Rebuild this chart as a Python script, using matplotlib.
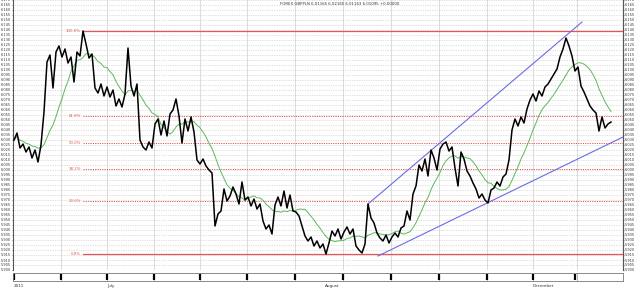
import numpy as np
import pandas as pd
import matplotlib
matplotlib.use("Agg")
import matplotlib.pyplot as plt
from matplotlib.ticker import MultipleLocator, FormatStrFormatter
from matplotlib.transforms import blended_transform_factory

# ---------------- data ----------------
day_start = 14
day_step = 3
prices = [
    6.030, 6.037, 6.022, 6.026, 6.018, 6.023, 6.012, 6.020, 6.008, 6.025,
    6.058, 6.108, 6.115, 6.082, 6.118, 6.124, 6.113, 6.121, 6.107, 6.113,
    6.088, 6.118, 6.114, 6.139, 6.126, 6.112, 6.116, 6.082, 6.077, 6.086,
    6.074, 6.083, 6.073, 6.080, 6.064, 6.071, 6.063, 6.076, 6.122, 6.084,
    6.074, 6.086, 6.030, 6.023, 6.020, 6.028, 6.022, 6.046, 6.051, 6.035,
    6.049, 6.034, 6.056, 6.060, 6.071, 6.054, 6.027, 6.051, 6.039, 6.053,
    6.038, 6.010, 6.006, 6.011, 6.004, 6.000, 5.997, 5.944, 5.956, 5.959,
    5.981, 5.969, 5.974, 5.983, 5.976, 5.966, 5.988, 5.970, 5.973, 5.964,
    5.971, 5.961, 5.966, 5.949, 5.941, 5.945, 5.936, 5.965, 5.973, 5.964,
    5.979, 5.962, 5.975, 5.959, 5.958, 5.954, 5.944, 5.934, 5.929, 5.933,
    5.924, 5.929, 5.922, 5.926, 5.916, 5.927, 5.939, 5.934, 5.941, 5.931,
    5.938, 5.943, 5.936, 5.941, 5.924, 5.920, 5.917, 5.926, 5.966, 5.952,
    5.947, 5.937, 5.932, 5.929, 5.935, 5.927, 5.933, 5.937, 5.933, 5.942,
    5.944, 5.959, 5.950, 5.976, 5.984, 6.005, 5.999, 6.011, 5.994, 6.020,
    6.012, 6.000, 6.021, 6.026, 6.028, 6.019, 6.023, 6.002, 5.984, 6.018,
    6.011, 5.999, 5.994, 5.987, 5.981, 5.972, 5.976, 5.970, 5.967, 5.980,
    5.982, 5.988, 5.984, 5.993, 5.996, 6.010, 6.040, 6.051, 6.044, 6.053,
    6.047, 6.061, 6.070, 6.076, 6.069, 6.079, 6.074, 6.083, 6.086, 6.091,
    6.096, 6.101, 6.113, 6.121, 6.132, 6.124, 6.114, 6.099, 6.103, 6.084,
    6.078, 6.071, 6.064, 6.060, 6.057, 6.039, 6.053, 6.042, 6.046, 6.048,
]
ma_window = 11

fib_pcts = [1.0, 0.618, 0.5, 0.382, 0.236, 0.0]
fib_labels = ["100.0%", "61.8%", "50.0%", "38.2%", "23.6%", "0.0%"]
fib_styles = ["-", ":", ":", ":", ":", "-"]
fib_start = 83

trend_upper_days = [368, 582]
trend_upper_prices = [5.966, 6.148]
trend_lower_days = [378, 623]
trend_lower_prices = [5.914, 6.033]

grid_days = [61, 107, 154, 200, 247, 295, 343, 391, 439, 487, 533, 577]
strip_marks = [14, 61, 107, 154, 200, 247, 295, 343, 391, 439, 487, 533, 575]
month_days = [14, 107, 325, 533]
month_labels = ["2011", "July", "August", "December"]

title = "FOREX GBPPLN 6.01165 6.02165 6.01163 6.01095 +0.00000"

x_min, x_max = 13, 623
y_min, y_max = 5.900, 6.170

# ---------------- figure ----------------
days = day_start + day_step * np.arange(len(prices))
s = pd.Series(prices, index=days)
ma = s.rolling(ma_window, min_periods=1).mean()

fig = plt.figure(figsize=(6.4, 3.02), dpi=100)
fig.patch.set_facecolor("white")

ax = fig.add_axes([13 / 640, 1 - 270 / 302, 610 / 640, 270 / 302])
ax.set_xlim(x_min, x_max)
ax.set_ylim(y_min, y_max)
ax.set_axisbelow(True)

# grid
ax.yaxis.set_major_locator(MultipleLocator(0.005))
ax.yaxis.set_major_formatter(FormatStrFormatter("%.3f"))
ax.grid(axis="y", color="#c4c4c4", linestyle=(0, (1, 1.5)), linewidth=0.5)
for g in grid_days:
    ax.axvline(g, color="#d6d6d6", linewidth=0.6, zorder=0)
ax.set_xticks([])

for sp in ["top", "bottom"]:
    ax.spines[sp].set_visible(False)
for sp in ["left", "right"]:
    ax.spines[sp].set_color("#555555")
    ax.spines[sp].set_linewidth(0.8)

ax.tick_params(axis="y", labelsize=2.5, length=1.0, width=0.4, pad=0.5,
               colors="#333333")

ax2 = ax.twinx()
ax2.set_ylim(y_min, y_max)
ax2.yaxis.set_major_locator(MultipleLocator(0.005))
ax2.yaxis.set_major_formatter(FormatStrFormatter("%.3f"))
ax2.tick_params(axis="y", labelsize=2.5, length=1.0, width=0.4, pad=0.5,
                colors="#333333")
for sp in ["top", "bottom", "left"]:
    ax2.spines[sp].set_visible(False)
ax2.spines["right"].set_color("#555555")
ax2.spines["right"].set_linewidth(0.8)

# fibonacci levels
hi, lo = s.max(), s.min()
for p, lab, ls in zip(fib_pcts, fib_labels, fib_styles):
    lev = lo + p * (hi - lo)
    ax.plot([fib_start, x_max], [lev, lev], color="#e85555",
            linestyle=ls if ls == "-" else (0, (1.2, 1.2)),
            linewidth=0.9 if ls == "-" else 0.7, zorder=3)
    ax.text(fib_start - 2, lev, lab, color="#e05555", fontsize=2.8,
            ha="right", va="center")

# trend lines
ax.plot(trend_upper_days, trend_upper_prices, color="#6b6be6", linewidth=0.8, zorder=3)
ax.plot(trend_lower_days, trend_lower_prices, color="#6b6be6", linewidth=0.8, zorder=3)

# moving average and price
ax.plot(ma.index, ma.values, color="#5cb85c", linewidth=0.7, zorder=4)
ax.plot(s.index, s.values, color="black", linewidth=1.1, zorder=5)

fig.text(0.53, 0.992, title, fontsize=2.8, ha="center", va="top", color="#333333")

# bottom date strip
axs = fig.add_axes([13 / 640, 1 - 281 / 302, 610 / 640, 8 / 302])
axs.set_xlim(x_min, x_max)
axs.set_ylim(0, 1)
axs.set_xticks([])
axs.set_yticks([])
for sp in axs.spines.values():
    sp.set_color("#777777")
    sp.set_linewidth(0.6)
for g in grid_days:
    axs.axvline(g, color="#999999", linewidth=0.5)
axs.plot(strip_marks, [0.5] * len(strip_marks), linestyle="none", marker="|",
         markersize=4, markeredgewidth=1.6, color="black")

tr = blended_transform_factory(axs.transData, axs.transAxes)
for d, lab in zip(month_days, month_labels):
    axs.text(d, -0.35, lab, transform=tr, fontsize=3, ha="left", va="top",
             color="#333333")

fig.savefig("out.png", dpi=100, facecolor="white")
